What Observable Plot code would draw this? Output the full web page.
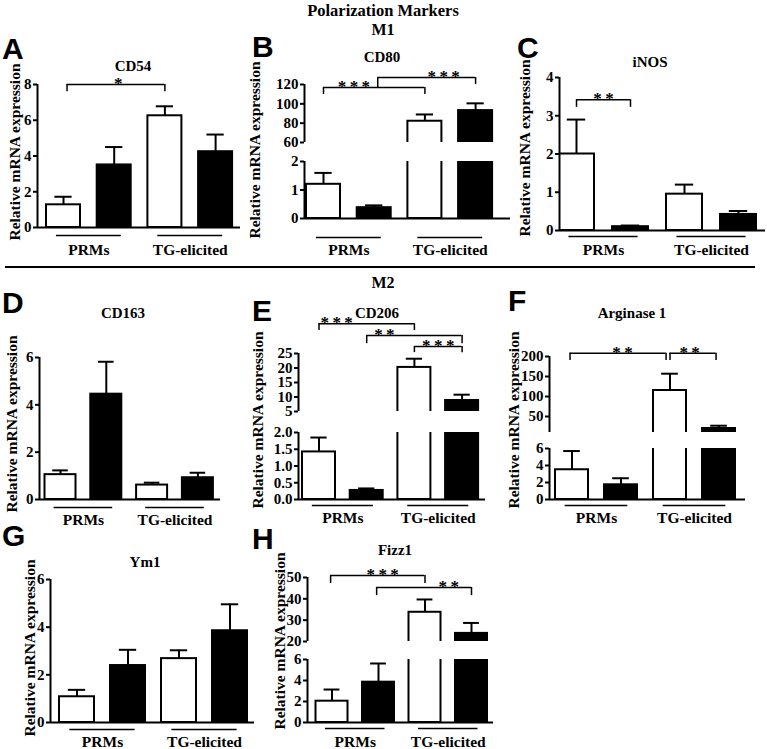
<!DOCTYPE html>
<html><head><meta charset="utf-8">
<script src="https://cdn.jsdelivr.net/npm/d3@7"></script>
<script src="https://cdn.jsdelivr.net/npm/@observablehq/plot@0.6"></script>
<style>
html,body{margin:0;padding:0;background:#fff;overflow:hidden}
#fig{position:relative;width:767px;height:749px;font-family:"Liberation Serif","Tinos","Times New Roman",Times,"DejaVu Serif",serif;color:#000;overflow:hidden}
.t{position:absolute;transform:translate(-50%,-50%);white-space:nowrap;font-weight:bold;line-height:1}
.yl{position:absolute;transform:translate(-50%,-50%) rotate(-90deg);white-space:nowrap;font-weight:bold;font-size:15.5px;line-height:1}
.lt{position:absolute;font-family:"Liberation Sans",Arial,sans-serif;font-weight:bold;font-size:30px;line-height:1}
.seg{position:absolute}
.rule{position:absolute;background:#000}
</style></head><body><div id="fig"></div>
<script>
// ---- data ----
const groups = ["PRMs", "TG-elicited"];
const yLabel = "Relative mRNA expression";
const cd54 = [1.27, 3.5, 6.25, 4.24],   cd54Err = [0.45, 1.0, 0.53, 0.96];
const cd80 = [1.2, 0.38, 82, 93],       cd80Err = [0.4, 0.08, 7, 7.5];
const inos = [2.0, 0.1, 0.95, 0.42],    inosErr = [0.9, 0.03, 0.25, 0.09];
const cd163 = [1.05, 4.45, 0.61, 0.92], cd163Err = [0.18, 1.37, 0.1, 0.21];
const cd206 = [1.42, 0.27, 20.2, 8.8],  cd206Err = [0.43, 0.06, 3.0, 2.0];
const arg1 = [3.5, 1.73, 115, 20],      arg1Err = [2.2, 0.77, 42, 7];
const ym1 = [1.08, 2.39, 2.68, 3.85],   ym1Err = [0.29, 0.66, 0.35, 1.11];
const fizz1 = [2.03, 3.84, 33.7, 23.8], fizz1Err = [1.11, 1.78, 6.0, 4.9];

const ticksA = [0, 2, 4, 6, 8];
const ticksB = [[60, 80, 100, 120], [0, 1, 2]];
const ticksC = [0, 1, 2, 3, 4];
const ticksD = [0, 2, 4, 6];
const ticksE = [[5, 10, 15, 20, 25], [0, 0.5, 1, 1.5, 2]];
const ticksF = [[50, 100, 150, 200], [0, 2, 4, 6]];
const ticksG = [0, 2, 4, 6];
const ticksH = [[20, 30, 40, 50], [0, 2, 4, 6]];

const SERIF = '"Liberation Serif", Tinos, "Times New Roman", Times, "DejaVu Serif", serif';

// ---- layout ----
const panels = [
  {letter:"A", lpos:[2,34], title:"CD54", tpos:[133,66], ylab:[15,152], values:cd54, errors:cd54Err,
   ax:37, bx:240, c1:63, s:50.7, bw:34, gl:235, gt:250,
   segs:[{yt:84, yb:227, domain:[0,8], ticks:ticksA}],
   brackets:[{a:1.07, b:3, y:8, la:7.6, lb:7.6, lx:2.08, label:"*"}]},
  {letter:"B", lpos:[252,32], title:"CD80", tpos:[382,57], ylab:[255,150], values:cd80, errors:cd80Err,
   ax:304, bx:510, c1:323, s:50.7, bw:34, gl:237, gt:250,
   segs:[{yt:84, yb:142, domain:[60,120], ticks:ticksB[0]}, {yt:161, yb:218, domain:[0,2], ticks:ticksB[1]}],
   brackets:[{a:1, b:3, y:116.9, la:109.7, lb:109.7, lx:1.6, label:"***"},
             {a:2.07, b:4, y:127.2, la:116.9, lb:120, lx:3.37, label:"***"}]},
  {letter:"C", lpos:[517,33], title:"iNOS", tpos:[650,62], ylab:[525,148], values:inos, errors:inosErr,
   ax:559, bx:765, c1:576, s:54, bw:36, gl:236, gt:250,
   segs:[{yt:77, yb:230, domain:[0,4], ticks:ticksC}],
   brackets:[{a:1, b:2, y:3.42, la:3.22, lb:3.22, lx:1.5, label:"**"}]},
  {letter:"D", lpos:[2,288], title:"CD163", tpos:[123,313], ylab:[12,424], values:cd163, errors:cd163Err,
   ax:39, bx:220, c1:60, s:45.8, bw:31, gl:507, gt:520,
   segs:[{yt:357, yb:499, domain:[0,6], ticks:ticksD}], brackets:[]},
  {letter:"E", lpos:[252,296], title:"CD206", tpos:[377,313], ylab:[258,420], values:cd206, errors:cd206Err,
   ax:298, bx:485, c1:318.5, s:47.7, bw:33, gl:505, gt:518,
   segs:[{yt:353, yb:411, domain:[5,25], ticks:ticksE[0]}, {yt:432, yb:499, domain:[0,2], ticks:ticksE[1], fmt:".1f"}],
   brackets:[{a:1, b:3, y:35.3, la:32.9, lb:32.9, lx:1.37, label:"***"},
             {a:2, b:4, y:31.2, la:28.4, lb:28.4, lx:2.37, label:"**"},
             {a:3, b:4, y:27.4, la:25.3, lb:25.3, lx:3.5, label:"***"}]},
  {letter:"F", lpos:[508,286], title:"Arginase 1", tpos:[632,313], ylab:[514,420], values:arg1, errors:arg1Err,
   ax:549, bx:745, c1:571.5, s:49, bw:33, gl:505, gt:518,
   segs:[{yt:356, yb:432, domain:[10,200], ticks:ticksF[0]}, {yt:448, yb:499, domain:[0,6], ticks:ticksF[1]}],
   brackets:[{a:0.96, b:2.92, y:208, la:190, lb:190, lx:2.03, label:"**"},
             {a:3.0, b:3.94, y:208, la:190, lb:190, lx:3.4, label:"**"}]},
  {letter:"G", lpos:[2,521], title:"Ym1", tpos:[145,562], ylab:[30,648], values:ym1, errors:ym1Err,
   ax:50, bx:254, c1:76.5, s:51, bw:35, gl:729, gt:742,
   segs:[{yt:579, yb:722, domain:[0,6], ticks:ticksG}], brackets:[]},
  {letter:"H", lpos:[252,524], title:"Fizz1", tpos:[395,550], ylab:[280,641], values:fizz1, errors:fizz1Err,
   ax:307, bx:493, c1:331.5, s:46.5, bw:32, gl:728, gt:742,
   segs:[{yt:577, yb:641, domain:[20,50], ticks:ticksH[0]}, {yt:659, yb:722, domain:[0,6], ticks:ticksH[1]}],
   brackets:[{a:0.97, b:3, y:50.9, la:47.2, lb:47.2, lx:2.09, label:"***"},
             {a:1.96, b:4, y:45.3, la:41.5, lb:41.5, lx:3.51, label:"**"}]}
];

const fig = document.getElementById("fig");
function addDiv(cls, text, x, y, extra) {
  const d = document.createElement("div");
  d.className = cls; d.textContent = text;
  d.style.left = x + "px"; d.style.top = y + "px";
  if (extra) Object.assign(d.style, extra);
  fig.appendChild(d); return d;
}

addDiv("t", "Polarization Markers", 383, 11, {fontSize:"16.5px"});
addDiv("t", "M1", 383, 30, {fontSize:"16px"});
addDiv("t", "M2", 383, 283, {fontSize:"16px"});
const hr = document.createElement("div");
hr.className = "rule"; Object.assign(hr.style, {left:"5px", top:"266px", width:"750px", height:"2px"});
fig.appendChild(hr);

function drawSegment(p, seg, isBottom, isTop) {
  const ML = 50, MR = 4, MT = 70, MB = 40;
  const plotW = ML + (p.bx - p.ax) + MR;
  const plotH = MT + (seg.yb - seg.yt) + MB;
  const xd = [1 - (p.c1 - p.ax) / p.s, 1 + (p.bx - p.c1) / p.s];
  const hw = p.bw / 2 / p.s, cap = 0.17;
  const rows = p.values.map((v, k) => ({i: k + 1, v, e: p.errors[k]}));
  const white = rows.filter(d => d.i % 2 === 1), black = rows.filter(d => d.i % 2 === 0);
  const d0 = seg.domain[0], d1 = seg.domain[1];
  const fmt = seg.fmt ? d3.format(seg.fmt) : (d => String(d));
  const marks = [
    Plot.rect(white, {x1: d => d.i - hw, x2: d => d.i + hw, y1: () => 0, y2: "v", fill: "white", stroke: "black", strokeWidth: 2, clip: true}),
    Plot.rect(black, {x1: d => d.i - hw, x2: d => d.i + hw, y1: () => 0, y2: "v", fill: "black", stroke: "black", strokeWidth: 2, clip: true}),
    Plot.ruleX(rows, {x: "i", y1: "v", y2: d => d.v + d.e, strokeWidth: 2, clip: true}),
    Plot.ruleY(rows, {x1: d => d.i - cap, x2: d => d.i + cap, y: d => d.v + d.e, strokeWidth: 2, clip: true}),
    Plot.ruleX([xd[0]], {y1: () => d0, y2: () => d1, strokeWidth: 2}),
    Plot.axisY(seg.ticks, {tickSize: 4, tickPadding: 2, strokeWidth: 2, tickFormat: fmt, label: null, fontSize: 15, fontWeight: "bold"})
  ];
  if (isBottom) {
    const gRows = groups.map((name, k) => ({name, mid: 1.5 + 2 * k}));
    marks.push(
      Plot.ruleY([0], {strokeWidth: 2}),
      Plot.ruleY(gRows, {x1: d => d.mid - 0.64, x2: d => d.mid + 0.64, y: () => 0, dy: p.gl - seg.yb, strokeWidth: 1.5}),
      Plot.text(gRows, {x: "mid", y: () => 0, text: "name", dy: p.gt - seg.yb, fontSize: 15.5, fontWeight: "bold"})
    );
  }
  if (isTop && p.brackets.length) {
    marks.push(
      Plot.ruleY(p.brackets, {x1: "a", x2: "b", y: "y", strokeWidth: 1.5}),
      Plot.ruleX(p.brackets, {x: "a", y1: "la", y2: "y", strokeWidth: 1.5}),
      Plot.ruleX(p.brackets, {x: "b", y1: "lb", y2: "y", strokeWidth: 1.5}),
      Plot.text(p.brackets, {x: "lx", y: "y", text: d => d.label.split("").join("\u2009"), dy: -1, fontSize: 17, fontWeight: "bold", fill: "black"})
    );
  }
  const svg = Plot.plot({
    width: plotW, height: plotH,
    marginLeft: ML, marginRight: MR, marginTop: MT, marginBottom: MB,
    x: {type: "linear", domain: xd, axis: null},
    y: {type: "linear", domain: seg.domain},
    style: {background: "transparent", overflow: "visible", fontFamily: SERIF, fontSize: "15px", fontWeight: "bold", color: "black"},
    marks
  });
  svg.setAttribute("font-family", SERIF);
  const div = document.createElement("div");
  div.className = "seg";
  Object.assign(div.style, {left: (p.ax - ML) + "px", top: (seg.yt - MT) + "px", width: plotW + "px", height: plotH + "px"});
  div.appendChild(svg);
  fig.appendChild(div);
}

for (const p of panels) {
  p.segs.forEach((seg, k) => drawSegment(p, seg, k === p.segs.length - 1, k === 0));
  addDiv("lt", p.letter, p.lpos[0], p.lpos[1]);
  addDiv("t", p.title, p.tpos[0], p.tpos[1], {fontSize: "15px"});
  addDiv("yl", yLabel, p.ylab[0], p.ylab[1]);
}
</script></body></html>
